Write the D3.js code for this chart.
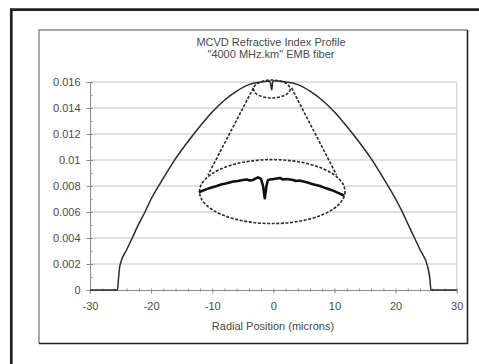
<!DOCTYPE html>
<html>
<head>
<meta charset="utf-8">
<script src="https://cdn.jsdelivr.net/npm/d3@7"></script>
<style>
  html, body { margin: 0; padding: 0; background: #fff; }
  svg { display: block; font-family: "Liberation Sans", Arial, sans-serif; }
</style>
</head>
<body>
<svg id="chart" width="479" height="364"></svg>
<script>
// radial position (microns) and refractive index difference
const profileR = [-30, -25.5, -25.35, -25.1, -24, -23, -22, -21, -20, -18, -16, -14, -12, -10, -8, -6, -4, -2, -0.6, -0.35, -0.25, -0.12, 0.2, 2, 4, 6, 8, 10, 12, 14, 16, 18, 20, 21, 22, 23, 24, 25.3, 25.6, 25.8, 30];
const profileN = [0, 0, 0.0008, 0.0019, 0.0031, 0.0041, 0.0051, 0.0060, 0.0070, 0.0086, 0.0101, 0.0114, 0.0126, 0.0137, 0.0146, 0.0153, 0.0158, 0.0160, 0.01608, 0.0156, 0.0154, 0.0160, 0.01610, 0.0160, 0.0158, 0.0153, 0.0146, 0.0137, 0.0126, 0.0114, 0.0101, 0.0086, 0.0070, 0.0061, 0.0051, 0.0041, 0.0031, 0.0017, 0.0009, 0, 0];

// magnified centre of the profile (inside the big ellipse)
const insetR = [-3.28, -3.0, -2.8, -2.58, -2.4, -2.2, -1.89, -1.7, -1.5, -1.33, -1.2, -1.07, -0.95, -0.86, -0.74, -0.65, -0.58, -0.51, -0.45, -0.36, -0.2, -0.08, 0.05, 0.18, 0.3, 0.47, 0.6, 0.72, 0.85, 1.03, 1.2, 1.39, 1.55, 1.72, 1.95, 2.22, 2.45, 2.69];
const insetN = [0.01577, 0.01582, 0.01585, 0.01588, 0.01591, 0.01593, 0.01597, 0.01598, 0.01600, 0.01601, 0.01599, 0.01600, 0.01603, 0.01605, 0.01602, 0.01588, 0.01564, 0.01588, 0.01600, 0.01601, 0.01602, 0.01603, 0.01604, 0.01601, 0.01602, 0.01601, 0.01600, 0.01598, 0.01599, 0.01597, 0.01595, 0.01592, 0.01590, 0.01588, 0.01584, 0.01580, 0.01575, 0.01570];

const xTicks = [-30, -20, -10, 0, 10, 20, 30];
const xTickLabels = ["-30", "-20", "-10", "0", "10", "20", "30"];
const xMinor = d3.range(-30, 31, 2);
const yTicks = [0, 0.002, 0.004, 0.006, 0.008, 0.01, 0.012, 0.014, 0.016];
const yTickLabels = ["0", "0.002", "0.004", "0.006", "0.008", "0.01", "0.012", "0.014", "0.016"];
const yMinor = d3.range(0, 0.0165, 0.001);

const titleLines = ["MCVD Refractive Index Profile", "\"4000 MHz.km\" EMB fiber"];
const xTitle = "Radial Position (microns)";

// annotation shapes, in data units
const spot   = { r: -0.25, n: 0.01546, dr: 3.0, dn: 0.00069 };
const lens   = { r: -0.18, n: 0.00757, dr: 11.9, dn: 0.00246 };
const guides = [[[-3.27, 0.01554], [-10.69, 0.00885]], [[2.98, 0.01554], [10.34, 0.00885]]];

const svg = d3.select("#chart");
const W = +svg.attr("width"), H = +svg.attr("height");

// outer frame (open at right and bottom)
svg.append("line").attr("x1", 10).attr("x2", W).attr("y1", 9.7).attr("y2", 9.7)
  .attr("stroke", "#222").attr("stroke-width", 2.7);
svg.append("line").attr("x1", 11.3).attr("x2", 11.3).attr("y1", 8.4).attr("y2", H)
  .attr("stroke", "#222").attr("stroke-width", 2.7);

// chart box with shadowed edges
const bx = 39, by = 30, bw = 428.5, bh = 313.5;
svg.append("path").attr("d", `M${bx},${by + bh}V${by}H${bx + bw}`)
  .attr("fill", "none").attr("stroke", "#8a8a8a").attr("stroke-width", 1.5);
svg.append("path").attr("d", `M${bx + bw},${by}V${by + bh}H${bx}`)
  .attr("fill", "none").attr("stroke", "#222").attr("stroke-width", 1.6);

const x = d3.scaleLinear().domain([-30, 30]).range([90, 456.7]);
const y = d3.scaleLinear().domain([0, 0.016]).range([290, 82]);

// grid
svg.append("g").selectAll("line").data(yTicks.slice(1)).join("line")
  .attr("x1", x(-30)).attr("x2", x(30))
  .attr("y1", d => y(d)).attr("y2", d => y(d))
  .attr("stroke", "#d6d6d6").attr("stroke-width", 1.3);
svg.append("line").attr("x1", x(30)).attr("x2", x(30)).attr("y1", y(0)).attr("y2", y(0.016))
  .attr("stroke", "#d6d6d6").attr("stroke-width", 1.3);

const axisCol = "#8c8c8c", textCol = "#4a4a4a", fs = 11;
function styleAxis(g) {
  g.select(".domain").attr("stroke", axisCol);
  g.selectAll(".tick line").attr("stroke", axisCol);
  g.selectAll(".tick text").attr("fill", textCol).attr("font-size", fs)
    .attr("font-family", "'Liberation Sans', Arial, sans-serif");
}

// y axis
svg.append("g").attr("transform", `translate(${x(-30)},0)`)
  .call(d3.axisLeft(y).tickValues(yTicks).tickSize(3.5).tickPadding(6)
    .tickFormat((d, i) => yTickLabels[i]))
  .call(styleAxis);
svg.append("g").attr("transform", `translate(${x(-30)},0)`)
  .call(d3.axisRight(y).tickValues(yTicks).tickSize(3).tickSizeOuter(0).tickFormat(""))
  .call(styleAxis);
svg.append("g").attr("transform", `translate(${x(-30)},0)`)
  .call(d3.axisRight(y).tickValues(yMinor).tickSize(2.5).tickSizeOuter(0).tickFormat(""))
  .call(styleAxis);

// x axis
svg.append("g").attr("transform", `translate(0,${y(0)})`)
  .call(d3.axisBottom(x).tickValues(xTicks).tickSize(3.5).tickPadding(9).tickSizeOuter(0)
    .tickFormat((d, i) => xTickLabels[i]))
  .call(styleAxis);
svg.append("g").attr("transform", `translate(0,${y(0)})`)
  .call(d3.axisTop(x).tickValues(xMinor).tickSize(1.5).tickSizeOuter(0).tickFormat(""))
  .call(styleAxis);
svg.append("g").attr("transform", `translate(0,${y(0)})`)
  .call(d3.axisBottom(x).tickValues(xMinor).tickSize(1.5).tickSizeOuter(0).tickFormat(""))
  .call(styleAxis);

// titles
svg.append("g").selectAll("text").data(titleLines).join("text")
  .attr("x", 271).attr("y", (d, i) => 45.5 + i * 12)
  .attr("text-anchor", "middle").attr("font-size", fs).attr("fill", textCol)
  .text(d => d);
svg.append("text").attr("x", 273).attr("y", 329.5)
  .attr("text-anchor", "middle").attr("font-size", fs).attr("fill", textCol)
  .text(xTitle);

// profile curve
const profile = profileR.map((r, i) => [r, profileN[i]]);
svg.append("path").datum(profile)
  .attr("d", d3.line().x(d => x(d[0])).y(d => y(d[1])).curve(d3.curveMonotoneX))
  .attr("fill", "none").attr("stroke", "#2a2a2a").attr("stroke-width", 1.5);

// magnifier annotation
const dash = { stroke: "#2a2a2a", "stroke-width": 1.6, "stroke-dasharray": "3,1.6", fill: "none" };
function applyDash(sel) { Object.entries(dash).forEach(([k, v]) => sel.attr(k, v)); return sel; }

applyDash(svg.append("ellipse")
  .attr("cx", x(spot.r)).attr("cy", y(spot.n))
  .attr("rx", x(spot.dr) - x(0)).attr("ry", y(0) - y(spot.dn)));

applyDash(svg.append("g").selectAll("line").data(guides).join("line")
  .attr("x1", d => x(d[0][0])).attr("y1", d => y(d[0][1]))
  .attr("x2", d => x(d[1][0])).attr("y2", d => y(d[1][1])));

const lcx = x(lens.r), lcy = y(lens.n), lrx = x(lens.dr) - x(0), lry = y(0) - y(lens.dn);
svg.append("ellipse").attr("cx", lcx).attr("cy", lcy).attr("rx", lrx).attr("ry", lry).attr("fill", "#fff");
applyDash(svg.append("ellipse").attr("cx", lcx).attr("cy", lcy).attr("rx", lrx).attr("ry", lry));

// magnified curve scales
const xi = d3.scaleLinear().domain([-3.3, 2.7]).range([199.5, 343.5]);
const yi = d3.scaleLinear().domain([0.0155, 0.0162]).range([205.4, 169.8]);
const inset = insetR.map((r, i) => [r, insetN[i]]);
svg.append("path").datum(inset)
  .attr("d", d3.line().x(d => xi(d[0])).y(d => yi(d[1])))
  .attr("fill", "none").attr("stroke", "#111").attr("stroke-width", 2.6)
  .attr("stroke-linejoin", "round").attr("stroke-linecap", "round");
</script>
</body>
</html>
